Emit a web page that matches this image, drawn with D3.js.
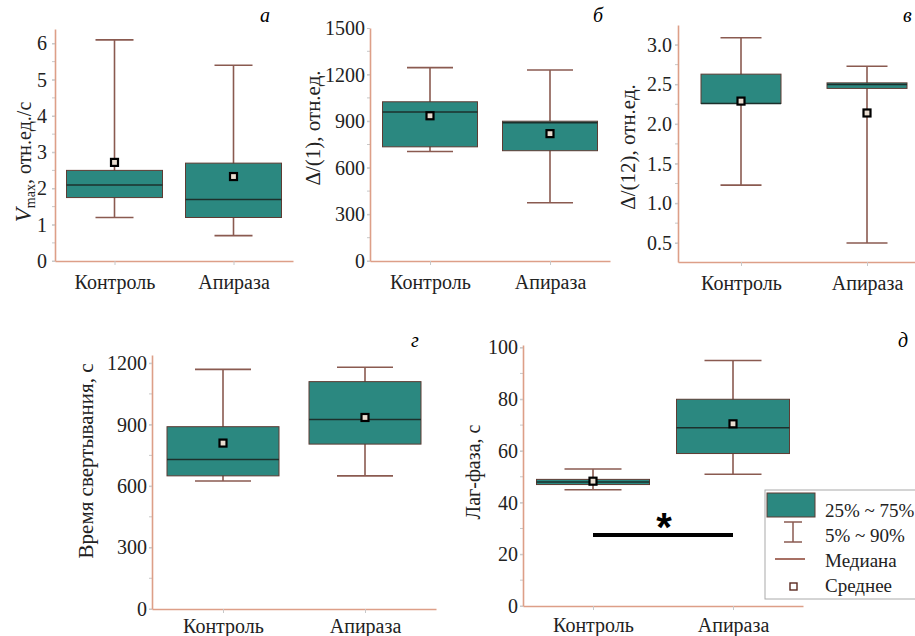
<!DOCTYPE html>
<html lang="ru">
<head>
<meta charset="UTF-8">
<script src="https://cdn.jsdelivr.net/npm/d3@7/dist/d3.min.js"></script>
<style>
  body { margin: 0; background: #fff; }
</style>
</head>
<body>
<svg width="915" height="636" font-family="Liberation Serif, Times New Roman, serif"></svg>
<script>
// groups on the x axis
var groups = ["Контроль", "Апираза"];

// box stats per group: 5%, 25%, median, 75%, 90%, mean
var vmax = [
  {p5: 1.2, q1: 1.75, med: 2.1, q3: 2.5, p90: 6.1, mean: 2.72},
  {p5: 0.7, q1: 1.2, med: 1.7, q3: 2.7, p90: 5.4, mean: 2.33}
];
var delta1 = [
  {p5: 705, q1: 735, med: 960, q3: 1025, p90: 1245, mean: 935},
  {p5: 375, q1: 710, med: 890, q3: 900, p90: 1230, mean: 820}
];
var delta12 = [
  {p5: 1.23, q1: 2.26, med: 2.26, q3: 2.63, p90: 3.09, mean: 2.29},
  {p5: 0.5, q1: 2.45, med: 2.5, q3: 2.52, p90: 2.73, mean: 2.14}
];
var clotTime = [
  {p5: 625, q1: 650, med: 730, q3: 890, p90: 1170, mean: 810},
  {p5: 650, q1: 805, med: 925, q3: 1110, p90: 1180, mean: 935}
];
var lagPhase = [
  {p5: 45, q1: 47, med: 48, q3: 49, p90: 53, mean: 48.3},
  {p5: 51, q1: 59, med: 69, q3: 80, p90: 95, mean: 70.5}
];

// tick values
var vmaxTicks = [0, 1, 2, 3, 4, 5, 6];
var delta1Ticks = [0, 300, 600, 900, 1200, 1500];
var delta12Ticks = [0.5, 1.0, 1.5, 2.0, 2.5, 3.0];
var clotTicks = [0, 300, 600, 900, 1200];
var lagTicks = [0, 20, 40, 60, 80, 100];

var legendItems = ["25% ~ 75%", "5% ~ 90%", "Медиана", "Среднее"];
var sigLevel = 27.5;   // significance bar for lag phase

var serif = "'Liberation Serif', 'Times New Roman', Times, serif";
var teal = "#2b8880", boxEdge = "#5e3b33", whisk = "#8a5a50",
    axisCol = "#dd9f88", tickCol = "#c8c8c8";

var svg = d3.select("svg");

var panels = [
  {data: vmax, ticks: vmaxTicks, minor: 0.5, fmt: d3.format("d"), domain: [0, 6.4],
   left: 55, right: 293, bottom: 261, top: 29, boxW: 96, capW: 38, pad: 5, xpad: 10,
   letter: "а", lx: 260, ly: 22, labX: 31, labY: 162, labSize: 20},
  {data: delta1, ticks: delta1Ticks, minor: 150, fmt: d3.format("d"), domain: [0, 1500],
   left: 370, right: 610, bottom: 261, top: 28, boxW: 95, capW: 46, pad: 2, xpad: 10,
   letter: "б", lx: 593, ly: 22, labX: 320, labY: 128, labSize: 21, label: "Δ/(1), отн.ед."},
  {data: delta12, ticks: delta12Ticks, minor: 0.25, fmt: d3.format(".1f"), domain: [0.26, 3.25],
   left: 678, right: 930, bottom: 262, top: 25, boxW: 80, capW: 41, pad: 3, xpad: 10,
   letter: "в", lx: 903, ly: 22, labX: 635, labY: 147, labSize: 21, label: "Δ/(12), отн.ед."},
  {data: clotTime, ticks: clotTicks, minor: 150, fmt: d3.format("d"), domain: [0, 1240],
   left: 152, right: 436, bottom: 609, top: 355, boxW: 112, capW: 56, pad: 2, xpad: 6,
   letter: "г", lx: 411, ly: 347, labX: 93, labY: 461, labSize: 21, label: "Время свертывания, с"},
  {data: lagPhase, ticks: lagTicks, minor: 10, fmt: d3.format("d"), domain: [0, 101],
   left: 523, right: 803, bottom: 606, top: 345, boxW: 113, capW: 57, pad: 2, xpad: 8,
   letter: "д", lx: 898, ly: 347, labX: 480, labY: 472, labSize: 20, label: "Лаг-фаза, с"}
];

panels.forEach(function(p, i) {
  var x = d3.scalePoint().domain(groups).range([p.left, p.right]).padding(0.5);
  var y = d3.scaleLinear().domain(p.domain).range([p.bottom, p.top]);
  var g = svg.append("g");

  // minor ticks on the y axis
  var minors = d3.range(Math.ceil(p.domain[0] / p.minor) * p.minor, p.domain[1], p.minor);
  g.selectAll(".minor").data(minors).enter().append("line")
    .attr("x1", p.left - 3).attr("x2", p.left)
    .attr("y1", function(d) { return y(d); }).attr("y2", function(d) { return y(d); })
    .attr("stroke", tickCol).attr("stroke-width", 1);

  var yAx = g.append("g").attr("transform", "translate(" + p.left + ",0)")
    .call(d3.axisLeft(y).tickValues(p.ticks).tickFormat(p.fmt).tickSize(3).tickSizeOuter(0).tickPadding(p.pad));
  var xAx = g.append("g").attr("transform", "translate(0," + p.bottom + ")")
    .call(d3.axisBottom(x).tickSize(4).tickSizeOuter(0).tickPadding(p.xpad));

  [yAx, xAx].forEach(function(a) {
    a.attr("font-family", null).attr("font-size", null);
    a.select(".domain").attr("stroke", axisCol).attr("stroke-width", 1.6);
    a.selectAll(".tick line").attr("stroke", tickCol);
    a.selectAll("text").style("font-family", serif).style("font-size", "20px").attr("fill", "#222");
  });

  // whiskers, behind the box
  var b = g.selectAll(".bx").data(p.data).enter().append("g");
  b.append("line")
    .attr("x1", function(d, j) { return x(groups[j]); })
    .attr("x2", function(d, j) { return x(groups[j]); })
    .attr("y1", function(d) { return y(d.p5); })
    .attr("y2", function(d) { return y(d.p90); })
    .attr("stroke", whisk).attr("stroke-width", 1.6);
  ["p5", "p90"].forEach(function(k) {
    b.append("line")
      .attr("x1", function(d, j) { return x(groups[j]) - p.capW / 2; })
      .attr("x2", function(d, j) { return x(groups[j]) + p.capW / 2; })
      .attr("y1", function(d) { return y(d[k]); })
      .attr("y2", function(d) { return y(d[k]); })
      .attr("stroke", whisk).attr("stroke-width", 1.6);
  });
  b.append("rect")
    .attr("x", function(d, j) { return x(groups[j]) - p.boxW / 2; })
    .attr("width", p.boxW)
    .attr("y", function(d) { return y(d.q3); })
    .attr("height", function(d) { return y(d.q1) - y(d.q3); })
    .attr("fill", teal).attr("stroke", boxEdge).attr("stroke-width", 1);
  b.append("line")
    .attr("x1", function(d, j) { return x(groups[j]) - p.boxW / 2; })
    .attr("x2", function(d, j) { return x(groups[j]) + p.boxW / 2; })
    .attr("y1", function(d) { return y(d.med); })
    .attr("y2", function(d) { return y(d.med); })
    .attr("stroke", "#1d302c").attr("stroke-width", 1.5);
  b.append("rect")
    .attr("x", function(d, j) { return x(groups[j]) - 3.5; })
    .attr("y", function(d) { return y(d.mean) - 3.5; })
    .attr("width", 7).attr("height", 7)
    .attr("fill", "#e9ddd0").attr("stroke", "#000").attr("stroke-width", 2.2);

  // panel letter
  g.append("text").attr("x", p.lx).attr("y", p.ly)
    .style("font-family", serif)
    .style("font-size", "20px").style("font-style", "italic").text(p.letter);

  // y label
  var lab = g.append("text")
    .attr("transform", "translate(" + p.labX + "," + p.labY + ") rotate(-90)")
    .attr("text-anchor", "middle")
    .style("font-family", serif)
    .style("font-size", p.labSize + "px").attr("fill", "#222");
  if (i === 0) {
    lab.append("tspan").style("font-style", "italic").style("font-size", "23px").text("V");
    lab.append("tspan").attr("dy", 4).style("font-size", "14px").text("max");
    lab.append("tspan").attr("dy", -4).text(", отн.ед./с");
  } else {
    lab.text(p.label);
  }

  if (i === 4) {
    // significance bar + asterisk
    g.append("line")
      .attr("x1", x(groups[0])).attr("x2", x(groups[1]))
      .attr("y1", y(sigLevel)).attr("y2", y(sigLevel))
      .attr("stroke", "#000").attr("stroke-width", 4);
    g.append("text")
      .attr("x", (x(groups[0]) + x(groups[1])) / 2 + 1).attr("y", y(sigLevel) + 6)
      .attr("text-anchor", "middle")
      .style("font-family", "'Liberation Sans', Arial, sans-serif")
      .style("font-weight", "bold").style("font-size", "40px")
      .attr("fill", "#000").text("*");
  }
});

// legend
var lg = svg.append("g").attr("transform", "translate(765,490)");
lg.append("rect").attr("x", 0).attr("y", 0).attr("width", 170).attr("height", 109)
  .attr("fill", "#fff").attr("stroke", "#aaa").attr("stroke-width", 1);
lg.append("rect").attr("x", 2).attr("y", 3).attr("width", 48).attr("height", 24)
  .attr("fill", teal).attr("stroke", boxEdge);
lg.append("line").attr("x1", 28).attr("x2", 28).attr("y1", 32).attr("y2", 52)
  .attr("stroke", whisk).attr("stroke-width", 1.5);
[32, 52].forEach(function(v) {
  lg.append("line").attr("x1", 19).attr("x2", 37).attr("y1", v).attr("y2", v)
    .attr("stroke", whisk).attr("stroke-width", 1.5);
});
lg.append("line").attr("x1", 10).attr("x2", 40).attr("y1", 69).attr("y2", 69)
  .attr("stroke", "#8a4030").attr("stroke-width", 1.5);
lg.append("rect").attr("x", 25).attr("y", 93).attr("width", 7).attr("height", 7)
  .attr("fill", "#fff").attr("stroke", "#5a2a20").attr("stroke-width", 1.4);
lg.selectAll(".lt").data(legendItems).enter().append("text")
  .attr("x", 60).attr("y", function(d, i) { return 27 + i * 25; })
  .style("font-family", serif)
  .style("font-size", "19px").attr("fill", "#222").text(function(d) { return d; });
</script>
</body>
</html>
